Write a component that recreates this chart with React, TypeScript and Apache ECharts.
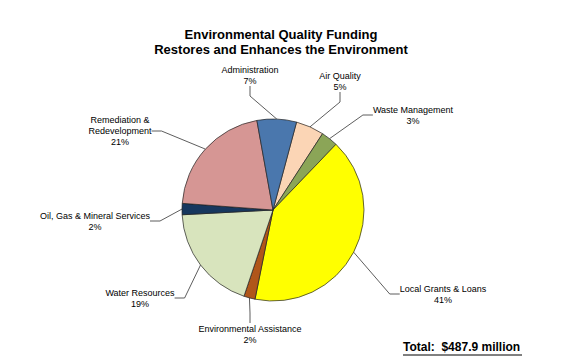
import React, { useEffect, useRef } from "react";
import * as echarts from "echarts";

const categories = [
  "Air Quality",
  "Waste Management",
  "Local Grants & Loans",
  "Environmental Assistance",
  "Water Resources",
  "Oil, Gas & Mineral Services",
  "Remediation &\nRedevelopment",
  "Administration",
];
const shares = [5, 3, 41, 2, 19, 2, 21, 7];
const colors = ["#FBD5B5", "#8BA557", "#FFFF00", "#B0561A", "#D8E4BD", "#17375E", "#D69694", "#4A77AD"];
const labelPos: [number, number][] = [
  [340, 81],
  [413, 115],
  [443, 294],
  [250, 334],
  [140, 298],
  [95, 221],
  [120, 131],
  [250, 75],
];
const titleLines = ["Environmental Quality Funding", "Restores and Enhances the Environment"];
const totalText = "Total:  $487.9 million";

export default function App() {
  const ref = useRef<HTMLDivElement>(null);
  useEffect(() => {
    if (!ref.current) return;
    const chart = echarts.init(ref.current, undefined, { renderer: "svg" });
    const font = "Liberation Sans, Arial, sans-serif";
    chart.setOption({
      animation: false,
      backgroundColor: "#ffffff",
      title: {
        text: titleLines.join("\n"),
        left: 276,
        top: 22,
        textAlign: "center",
        textStyle: { fontFamily: font, fontSize: 13, fontWeight: "bold", color: "#000", lineHeight: 15 },
      },
      graphic: [
        {
          type: "text",
          left: 403,
          top: 341,
          style: { text: totalText, font: "bold 12px Liberation Sans, Arial, sans-serif", fill: "#000" },
        },
        {
          type: "line",
          shape: { x1: 403, y1: 355, x2: 522, y2: 355 },
          style: { stroke: "#000", lineWidth: 1 },
        },
      ],
      series: [
        {
          type: "pie",
          center: [273, 210],
          radius: [0, 91],
          startAngle: 75,
          clockwise: true,
          avoidLabelOverlap: false,
          data: categories.map((name, i) => ({ name, value: shares[i], itemStyle: { color: colors[i] } })),
          itemStyle: { borderColor: "#222", borderWidth: 0.7 },
          label: {
            show: true,
            formatter: (p: any) => `${p.name}\n${Math.round(p.value)}%`,
            fontFamily: font,
            fontSize: 9,
            lineHeight: 11,
            color: "#000",
            align: "center",
          },
          labelLine: { show: true, length: 10, length2: 10, lineStyle: { color: "#333", width: 0.8 } },
          labelLayout: (params: any) => {
            const pos = labelPos[params.dataIndex];
            return { x: pos[0], y: pos[1], align: "center", verticalAlign: "middle" };
          },
          emphasis: { disabled: true },
        },
      ],
    });
    return () => chart.dispose();
  }, []);
  return <div ref={ref} style={{ position: "fixed", left: 0, top: 0, width: 563, height: 361 }} />;
}
